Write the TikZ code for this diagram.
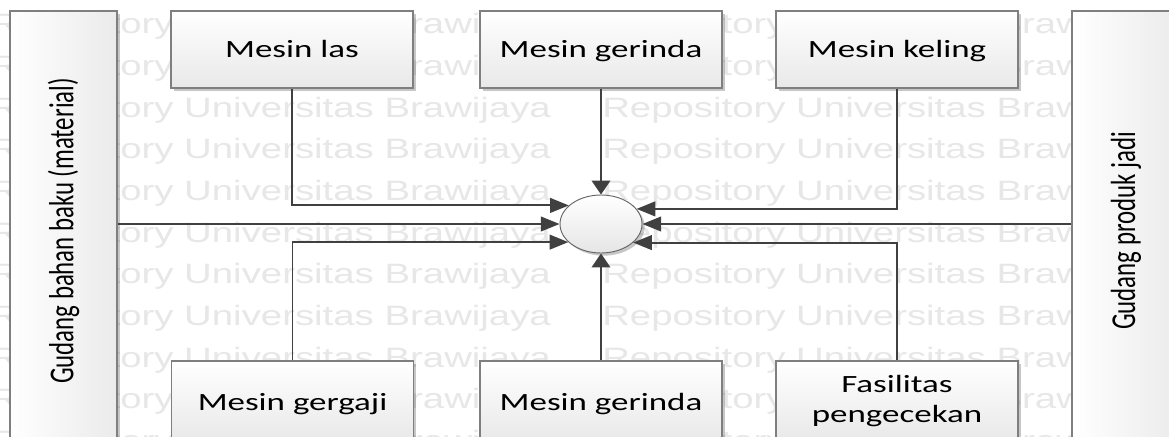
\documentclass[tikz,border=0pt]{standalone}
\usepackage{fontspec}
\setmainfont{Carlito}
\newfontfamily\wmfont{Liberation Sans}
\usetikzlibrary{arrows.meta,shapes.geometric,shadows}

% one unit of the drawing grid
\newlength\pxu
\setlength\pxu{0.75pt}
% horizontally widened lettering
\newcommand\xwide[1]{\scalebox{1.41}[1]{#1}}
\newcommand\wmwide[1]{\scalebox{1.37}[1]{#1}}

\definecolor{lineC}{HTML}{404040}
\definecolor{edgeC}{HTML}{7F7F7F}
\definecolor{wmC}{HTML}{E7E7E7}

\begin{document}
\begin{tikzpicture}[x=0.75pt,y=-0.75pt,
  font=\fontsize{18.6pt}{22.5pt}\selectfont,
  boxshadow/.style={drop shadow={shadow xshift=2pt,shadow yshift=-2pt,fill=black,opacity=0.22}},
  machine/.style={draw=edgeC, line width=0.8pt, top color=white, bottom color=black!9,
    boxshadow, minimum width=242\pxu, inner sep=0pt},
  topbox/.style={machine, minimum height=77\pxu, text height=16pt, text depth=4pt},
  botbox/.style={machine, minimum height=81\pxu, text height=16.4pt, text depth=3.6pt},
  twobox/.style={machine, minimum height=81\pxu},
  store/.style={draw=edgeC, line width=0.8pt, left color=white, right color=black!8,
    boxshadow, minimum height=440\pxu, inner sep=0pt},
  hubshape/.style={ellipse, draw=black!60, line width=0.7pt, top color=white,
    bottom color=black!10, boxshadow, minimum width=82\pxu, minimum height=58\pxu, inner sep=0pt},
  conn/.style={draw=lineC, line width=1.4pt},
  harrow/.style={-{Triangle[length=14pt,width=11pt]}},
  varrow/.style={-{Triangle[length=10.5pt,width=14pt]}},
  wm/.style={text=wmC, font=\wmfont\fontsize{21pt}{25pt}\selectfont, inner sep=0pt, anchor=base west}
]
\useasboundingbox (0,0) rectangle (1169,436);
\clip (0,0) rectangle (1169,436);
\fill[white] (0,0) rectangle (1169,436);

% repository watermark rows
\foreach \r in {0,...,10} {
  \foreach \c in {0,1,2} {
    \node[wm] (wm-\r-\c) at ({-10+612*\c},{33.6+41.7*\r}) {\wmwide{Repository Universitas Brawijaya}};
  }
}

% warehouses
\node[store, minimum width=107\pxu] (store-in) at (63.5,231)
  {\xwide{\rotatebox{90}{Gudang bahan baku (material)}}};
\node[store, minimum width=108\pxu] (store-out) at (1126,231)
  {\xwide{\rotatebox{90}{Gudang produk jadi}}};

% machines above
\node[topbox] (m-las) at (292,49.5) {\xwide{Mesin las}};
\node[topbox] (m-gerinda-a) at (601,49.5) {\xwide{Mesin gerinda}};
\node[topbox] (m-keling) at (897,49.5) {\xwide{Mesin keling}};

% machines below
\node[botbox] (m-gergaji) at (292.5,401.5) {\xwide{Mesin gergaji}};
\node[botbox] (m-gerinda-b) at (601,401.5) {\xwide{Mesin gerinda}};
\node[twobox] (m-cek) at (897,401.5)
  {\xwide{\begin{tabular}{@{}c@{}}Fasilitas\\pengecekan\end{tabular}}};

% central point
\node[hubshape] (hub) at (601,224) {};

% flows into the central point
\draw[conn, harrow] (store-in.east |- hub.west) -- (hub.west);
\draw[conn, harrow] (store-out.west |- hub.east) -- (hub.east);
\draw[conn, varrow] (m-gerinda-a.south) -- (hub.north);
\draw[conn, varrow] (m-gerinda-b.north) -- (hub.south);
\draw[conn, harrow] (m-las.south) |- (hub.150.6);
\draw[conn, harrow] (m-gergaji.north) |- (hub.209.4);
\draw[conn, harrow] (m-keling.south) |- (hub.23.1);
\draw[conn, harrow] (m-cek.north) |- (hub.330.6);
\end{tikzpicture}
\end{document}
